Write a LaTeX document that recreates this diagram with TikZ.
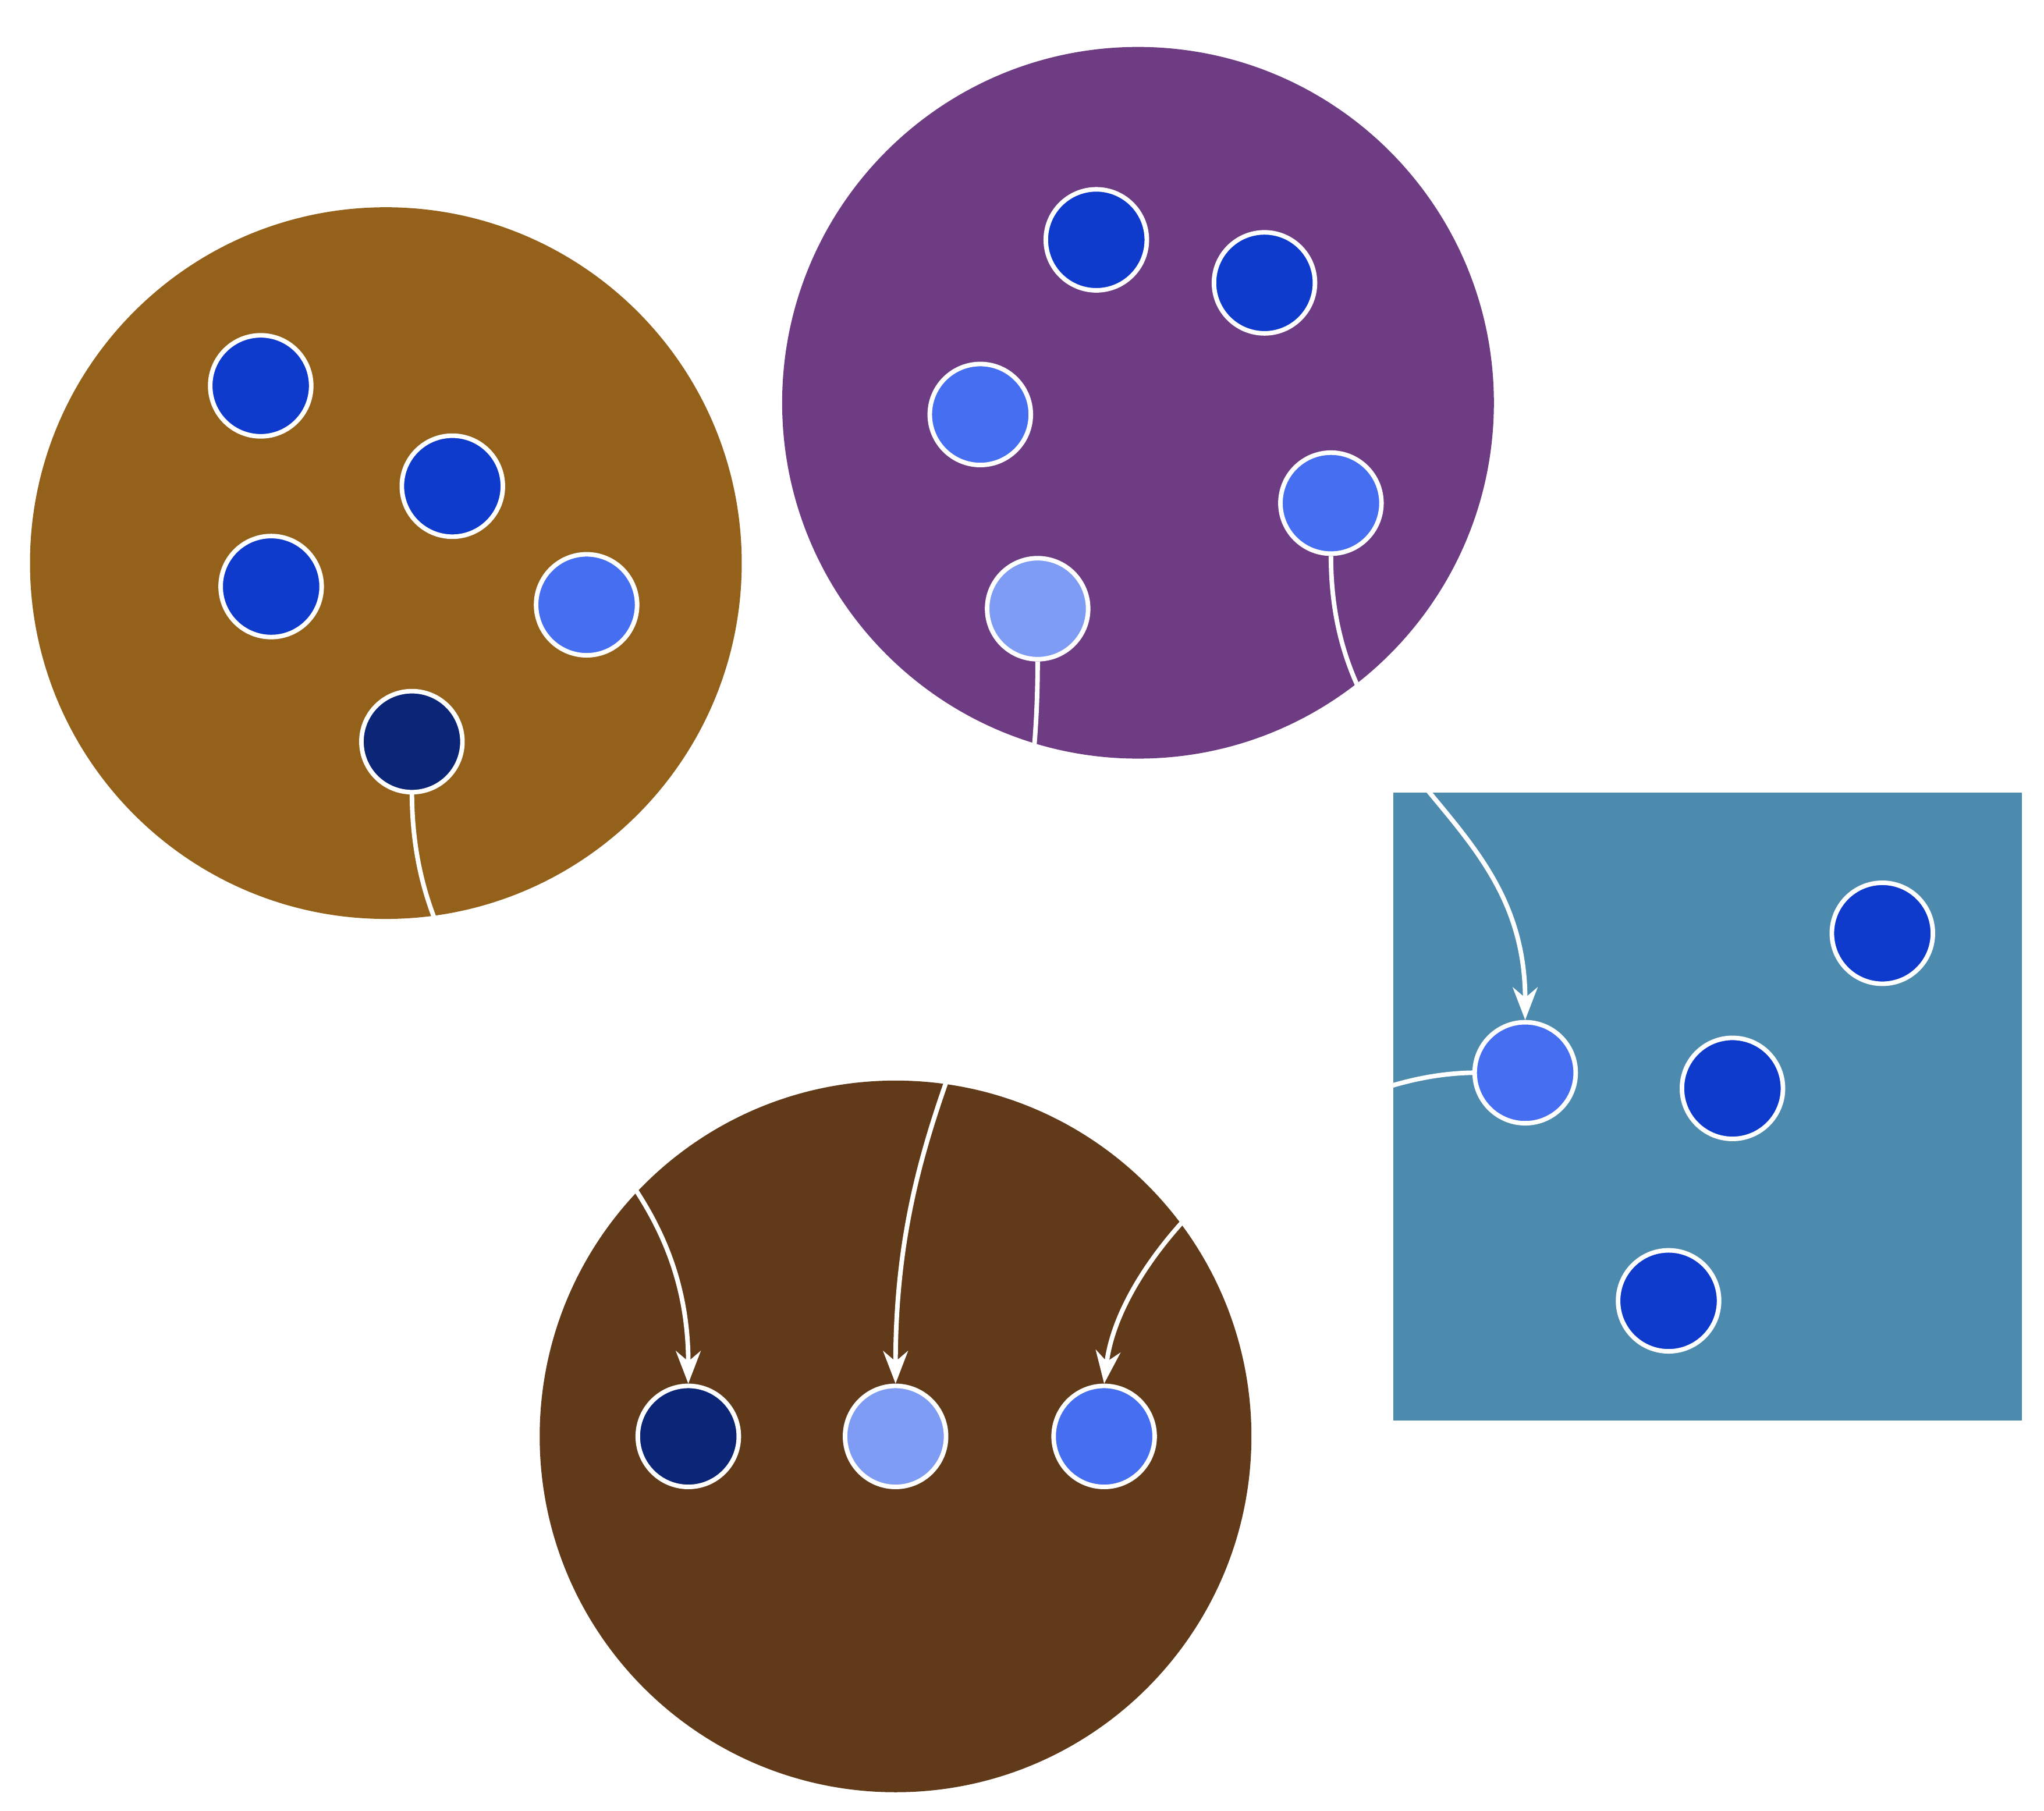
\documentclass[tikz,border=0pt]{standalone}
\usetikzlibrary{arrows.meta}
\definecolor{ochre}{HTML}{93611A}
\definecolor{plum}{HTML}{6E3C82}
\definecolor{umber}{HTML}{603A19}
\definecolor{steel}{HTML}{4C8AAE}
\definecolor{royal}{HTML}{0E3BCC}
\definecolor{cobalt}{HTML}{456EF0}
\definecolor{sky}{HTML}{7E9CF4}
\definecolor{navy}{HTML}{0B2677}
\tikzset{
  dot/.style={circle, draw=white, line width=0.35mm, minimum size=7.75mm, inner sep=0pt},
  link/.style={draw=white, line width=0.35mm},
  arrowlink/.style={link, -{Stealth[length=2.5mm, width=1.9mm, inset=0.8mm]}}
}

\begin{document}
\begin{tikzpicture}[x=0.1mm, y=-0.1mm]
		%%%%% START %%%%%
		\useasboundingbox (0, 0) rectangle (1568, 1389);
		
		\fill[ochre] (296, 432) circle (27.3mm);
		\fill[plum] (873, 309) circle (27.3mm);
		\fill[umber] (687, 1102) circle (27.3mm);
		\fill[steel] (1069, 608) rectangle (1551, 1090);
		
		% left cluster
		\node[dot, fill=royal] (ga) at (200, 296) {};
		\node[dot, fill=royal] (gb) at (347, 373) {};
		\node[dot, fill=royal] (gc) at (208, 450) {};
		\node[dot, fill=cobalt] (gd) at (450, 464) {};
		\node[dot, fill=navy] (gnavy) at (316, 569) {};
		
		% top cluster
		\node[dot, fill=royal] (pa) at (841, 184) {};
		\node[dot, fill=royal] (pb) at (970, 217) {};
		\node[dot, fill=cobalt] (pc) at (752, 318) {};
		\node[dot, fill=cobalt] (pmid) at (1021, 386) {};
		\node[dot, fill=sky] (plight) at (796, 467) {};
		
		% bottom cluster
		\node[dot, fill=navy] (bnavy) at (528, 1102) {};
		\node[dot, fill=sky] (blight) at (687, 1102) {};
		\node[dot, fill=cobalt] (bmid) at (847, 1102) {};
		
		% square
		\node[dot, fill=cobalt] (rmid) at (1170, 823) {};
		\node[dot, fill=royal] (ra) at (1444, 716) {};
		\node[dot, fill=royal] (rb) at (1329, 835) {};
		\node[dot, fill=royal] (rc) at (1280, 998) {};
		
		\draw[arrowlink] (gnavy.south) .. controls (317, 820) and (528, 850) .. (bnavy.north);
		\draw[arrowlink] (plight.south) .. controls (796, 760) and (687, 820) .. (blight.north);
		\draw[arrowlink] (pmid.south) .. controls (1021, 600) and (1170, 620) .. (rmid.north);
		\draw[arrowlink] (rmid.west) .. controls (1000, 825) and (860, 955) .. (bmid.north);
		
		%%%%% END %%%%%
	\end{tikzpicture}
\end{document}
